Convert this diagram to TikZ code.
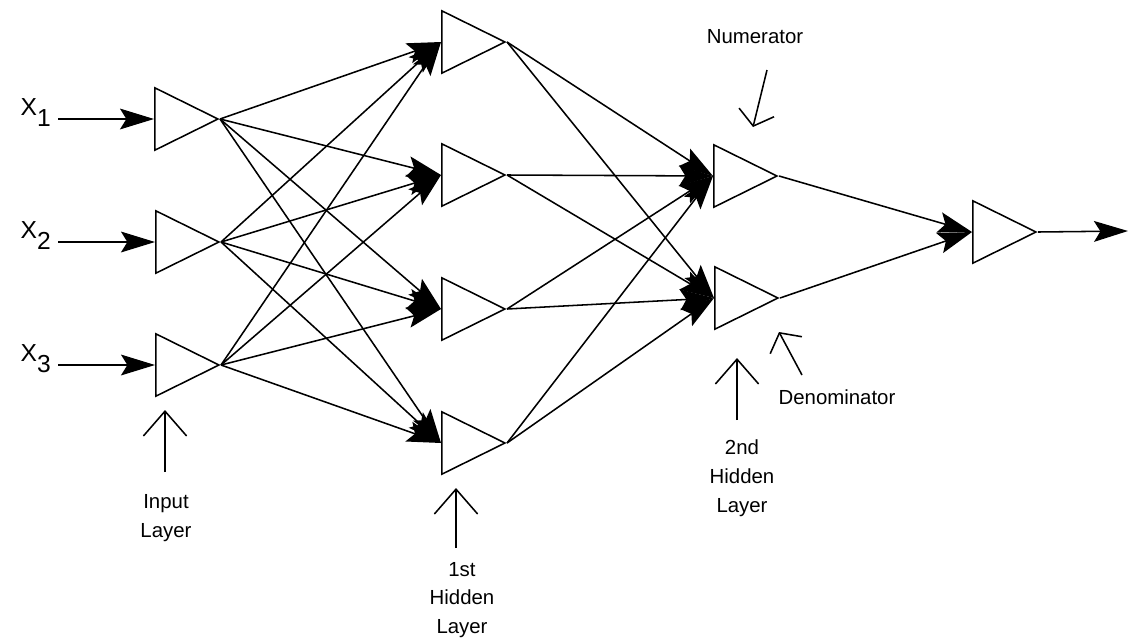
\documentclass[tikz,border=0pt]{standalone}
\usepackage{fontspec}
\setmainfont{Liberation Sans}
\usetikzlibrary{arrows.meta, shapes.geometric}

\begin{document}
\begin{tikzpicture}[x=0.025cm, y=-0.025cm,
        neuron/.style={draw, line width=1.1pt, isosceles triangle,
            isosceles triangle stretches, minimum width=1.56cm,
            minimum height=1.58cm, inner sep=0pt, anchor=lower side},
        sig/.style={line width=1.1pt,
            -{Stealth[length=8.5mm, width=5.2mm, inset=1.6mm]}},
        pointer/.style={line width=1.1pt,
            -{Straight Barb[length=6.2mm, width=10.8mm]}},
        hint/.style={line width=1.1pt,
            -{Straight Barb[length=3.5mm, width=9mm]}},
        lbl/.style={font=\fontsize{14.5}{20.5}\selectfont,
            align=center, inner sep=0pt},
        xlbl/.style={font=\fontsize{17.5}{20}\selectfont, inner sep=0pt}
    ]
    \useasboundingbox (0,0) rectangle (1138,639);

    % Input layer
    \node[neuron] (in1) at (154,119) {};
    \node[neuron] (in2) at (155,242) {};
    \node[neuron] (in3) at (155,365) {};

    % 1st hidden layer
    \node[neuron] (hA1) at (441,42) {};
    \node[neuron] (hA2) at (441,175) {};
    \node[neuron] (hA3) at (441,309) {};
    \node[neuron] (hA4) at (441,443) {};

    % 2nd hidden layer
    \node[neuron] (hB1) at (713,176) {};
    \node[neuron] (hB2) at (714,298) {};

    % Output
    \node[neuron] (out) at (972,232) {};

    % Inputs
    \foreach \i/\y in {1/119, 2/242, 3/365} {
        \node[xlbl, anchor=base east] (x\i lbl) at (51,\y-4)
            {X\raisebox{-8.5pt}{\i}};
        \coordinate (x\i) at (58,\y);
        \draw[sig] (x\i) -- (in\i.lower side);
    }

    % Weights
    \foreach \i in {1,2,3}
        \foreach \j in {1,...,4}
            \draw[sig] (in\i.apex) -- (hA\j.lower side);
    \foreach \j in {1,...,4}
        \foreach \k in {1,2}
            \draw[sig] (hA\j.apex) -- (hB\k.lower side);
    \foreach \k in {1,2}
        \draw[sig] (hB\k.apex) -- (out.lower side);

    \coordinate (outEnd) at (1128,231);
    \draw[sig] (out.apex) -- (outEnd);

    % Layer labels
    \node[lbl] (inLayer) at (166,518) {Input\\Layer};
    \node[lbl] (hALayer) at (462,600) {1st\\Hidden\\Layer};
    \node[lbl] (hBLayer) at (742,478) {2nd\\Hidden\\Layer};
    \node[lbl] (numer) at (755,37) {Numerator};
    \node[lbl] (denom) at (837,397) {Denominator};

    \coordinate (inTail) at (165,472);  \coordinate (inTip) at (165,410);
    \coordinate (hATail) at (456,548);  \coordinate (hATip) at (456,488);
    \coordinate (hBTail) at (737,420);  \coordinate (hBTip) at (737,358);
    \coordinate (numTail) at (767,70);  \coordinate (numTip) at (753,127);
    \coordinate (denTail) at (802,375); \coordinate (denTip) at (779,332);

    \draw[pointer] (inTail) -- (inTip);
    \draw[pointer] (hATail) -- (hATip);
    \draw[pointer] (hBTail) -- (hBTip);
    \draw[hint] (numTail) -- (numTip);
    \draw[hint] (denTail) -- (denTip);

\end{tikzpicture}
\end{document}
